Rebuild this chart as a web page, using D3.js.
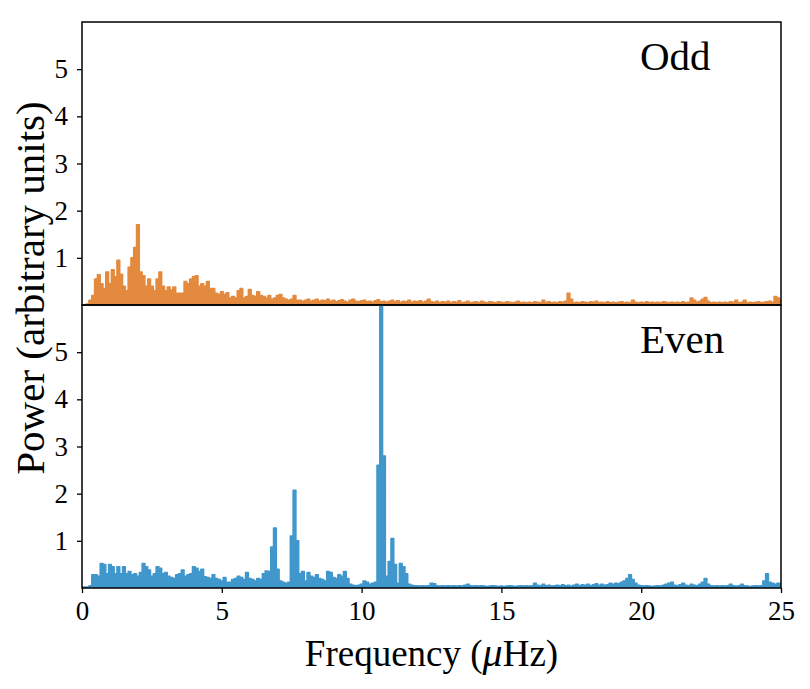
<!DOCTYPE html>
<html>
<head>
<meta charset="utf-8">
<script src="https://cdn.jsdelivr.net/npm/d3@7"></script>
<style>
  body { margin: 0; background: #fff; }
  svg { display: block; font-family: "Liberation Serif", "Times New Roman", serif; }
</style>
</head>
<body>
<svg id="chart" width="810" height="689"></svg>
<script>
// frequency grid (µHz), 0.1 step from 0 to 25
const freqStep = 0.1;

// odd-degree power spectrum
const oddPower = [
  0, 0, 0.02, 0.1, 0.2, 0.55, 0.64, 0.45, 0.35, 0.7,
  0.45, 0.75, 0.6, 0.95, 0.65, 0.4, 0.3, 0.8, 1.0, 1.22,
  1.7, 0.7, 0.62, 0.4, 0.55, 0.4, 0.3, 0.55, 0.7, 0.4,
  0.3, 0.38, 0.32, 0.38, 0.25, 0.25, 0.25, 0.5, 0.45, 0.55,
  0.6, 0.62, 0.4, 0.45, 0.4, 0.5, 0.35, 0.35, 0.25, 0.22,
  0.28, 0.22, 0.26, 0.15, 0.18, 0.15, 0.3, 0.35, 0.15, 0.18,
  0.33, 0.2, 0.18, 0.28, 0.2, 0.18, 0.15, 0.2, 0.12, 0.15,
  0.2, 0.22, 0.15, 0.12, 0.1, 0.12, 0.2, 0.1, 0.1, 0.08,
  0.1, 0.12, 0.08, 0.1, 0.12, 0.08, 0.1, 0.09, 0.12, 0.08,
  0.1, 0.07, 0.09, 0.11, 0.08, 0.06, 0.1, 0.12, 0.08, 0.07,
  0.09, 0.1, 0.07, 0.08, 0.06, 0.09, 0.11, 0.07, 0.08, 0.06,
  0.08, 0.1, 0.07, 0.09, 0.06, 0.08, 0.07, 0.1, 0.06, 0.08,
  0.07, 0.09, 0.06, 0.08, 0.12, 0.07, 0.06, 0.08, 0.05, 0.07,
  0.06, 0.08, 0.05, 0.07, 0.06, 0.09, 0.05, 0.06, 0.08, 0.05,
  0.06, 0.07, 0.05, 0.08, 0.06, 0.05, 0.07, 0.06, 0.05, 0.07,
  0.06, 0.05, 0.07, 0.06, 0.05, 0.06, 0.08, 0.05, 0.06, 0.05,
  0.06, 0.05, 0.07, 0.06, 0.05, 0.1, 0.06, 0.07, 0.05, 0.06,
  0.05, 0.07, 0.06, 0.08, 0.25, 0.12, 0.05, 0.06, 0.05, 0.07,
  0.06, 0.05, 0.07, 0.06, 0.08, 0.05, 0.06, 0.05, 0.07, 0.05,
  0.06, 0.05, 0.06, 0.07, 0.05, 0.06, 0.05, 0.1, 0.06, 0.05,
  0.06, 0.05, 0.07, 0.05, 0.06, 0.05, 0.06, 0.05, 0.07, 0.06,
  0.05, 0.06, 0.05, 0.06, 0.05, 0.07, 0.05, 0.06, 0.15, 0.1,
  0.06, 0.08, 0.12, 0.16, 0.08, 0.05, 0.06, 0.05, 0.06, 0.05,
  0.06, 0.05, 0.07, 0.06, 0.1, 0.05, 0.06, 0.1, 0.05, 0.06,
  0.05, 0.06, 0.07, 0.05, 0.06, 0.07, 0.08, 0.06, 0.18, 0.15,
  0.1
];

// even-degree power spectrum
const evenPower = [
  0.02, 0.02, 0.02, 0.05, 0.28, 0.28, 0.25, 0.52, 0.5, 0.3,
  0.5, 0.45, 0.3, 0.45, 0.3, 0.45, 0.3, 0.35, 0.28, 0.3,
  0.25, 0.33, 0.52, 0.45, 0.38, 0.25, 0.3, 0.45, 0.42, 0.3,
  0.33, 0.25, 0.22, 0.2, 0.28, 0.3, 0.38, 0.25, 0.28, 0.3,
  0.45, 0.42, 0.35, 0.4, 0.24, 0.22, 0.2, 0.28, 0.2, 0.18,
  0.15, 0.22, 0.12, 0.12, 0.18, 0.2, 0.25, 0.22, 0.18, 0.33,
  0.2, 0.18, 0.15, 0.2, 0.18, 0.3, 0.36, 0.35, 0.87, 1.27,
  0.4, 0.15, 0.12, 0.1, 0.12, 1.1, 2.07, 1.0, 0.3, 0.35,
  0.15, 0.33, 0.25, 0.22, 0.28, 0.2, 0.18, 0.15, 0.35, 0.33,
  0.22, 0.2, 0.28, 0.25, 0.35, 0.2, 0.08, 0.06, 0.05, 0.06,
  0.08, 0.15, 0.12, 0.08, 0.1, 0.12, 2.6, 6.3, 2.8, 0.25,
  0.56, 1.05, 0.5, 0.1, 0.52, 0.45, 0.3, 0.08, 0.06, 0.05,
  0.05, 0.04, 0.05, 0.04, 0.05, 0.1, 0.09, 0.05, 0.04, 0.05,
  0.04, 0.05, 0.04, 0.05, 0.04, 0.05, 0.04, 0.06, 0.08, 0.05,
  0.04, 0.05, 0.04, 0.05, 0.04, 0.03, 0.04, 0.05, 0.04, 0.03,
  0.04, 0.03, 0.04, 0.05, 0.04, 0.03, 0.04, 0.05, 0.04, 0.05,
  0.04, 0.05, 0.1, 0.06, 0.05, 0.08, 0.05, 0.06, 0.04, 0.05,
  0.06, 0.05, 0.07, 0.05, 0.06, 0.04, 0.06, 0.08, 0.05, 0.07,
  0.06, 0.08, 0.05, 0.07, 0.09, 0.06, 0.08, 0.06, 0.07, 0.1,
  0.08, 0.1, 0.09, 0.12, 0.15, 0.2, 0.28, 0.18, 0.1, 0.06,
  0.05, 0.04, 0.05, 0.04, 0.03, 0.04, 0.05, 0.04, 0.06, 0.08,
  0.1, 0.12, 0.06, 0.05, 0.07, 0.1, 0.06, 0.05, 0.08, 0.06,
  0.05, 0.08, 0.12, 0.2, 0.08, 0.05, 0.04, 0.05, 0.04, 0.05,
  0.04, 0.05, 0.08, 0.05, 0.04, 0.05, 0.08, 0.05, 0.04, 0.03,
  0.04, 0.05, 0.04, 0.05, 0.15, 0.3, 0.12, 0.1, 0.08, 0.1,
  0.1
];

const xTicks = [0, 5, 10, 15, 20, 25];
const yTicks = [1, 2, 3, 4, 5];

const panels = [
  { name: "Odd", values: oddPower, color: "#e38a3f" },
  { name: "Even", values: evenPower, color: "#4097cc" }
];

const svg = d3.select("#chart");
const margin_left = 82, margin_top = 22, plot_w = 699, panel_h = 283;
const fontFam = "Liberation Serif, Times New Roman, serif";

const x = d3.scaleLinear().domain([0, 25]).range([margin_left, margin_left + plot_w]);

panels.forEach((p, i) => {
  const top = margin_top + i * panel_h;
  const y = d3.scaleLinear().domain([0, 6]).range([top + panel_h, top]);
  const data = p.values.map((v, k) => ({ f: k * freqStep, v: v }));

  const clipId = "clip" + i;
  svg.append("clipPath").attr("id", clipId)
    .append("rect")
    .attr("x", margin_left).attr("y", top)
    .attr("width", plot_w).attr("height", panel_h);

  const g = svg.append("g").attr("clip-path", `url(#${clipId})`);

  const area = d3.area()
    .curve(d3.curveStep)
    .x((d) => x(d.f))
    .y0(y(0))
    .y1((d) => y(d.v));

  const line = d3.line()
    .curve(d3.curveStep)
    .x((d) => x(d.f))
    .y((d) => y(d.v));

  g.append("path").datum(data)
    .attr("fill", p.color)
    .attr("d", area);

  g.append("path").datum(data)
    .attr("fill", "none")
    .attr("stroke", p.color)
    .attr("stroke-width", 1.5)
    .attr("stroke-linejoin", "round")
    .attr("d", line);

  // y axis
  const ya = svg.append("g")
    .attr("transform", `translate(${margin_left},0)`)
    .call(d3.axisLeft(y).tickValues(yTicks).tickSize(5).tickPadding(9).tickFormat(d3.format("d")))
    .attr("font-family", fontFam)
    .attr("font-size", 27);
  ya.select(".domain").remove();
  ya.selectAll("line").attr("stroke", "#000").attr("stroke-width", 1.3);
  ya.selectAll("text").attr("fill", "#000");

  // frame
  svg.append("rect")
    .attr("x", margin_left).attr("y", top)
    .attr("width", plot_w).attr("height", panel_h)
    .attr("fill", "none").attr("stroke", "#000").attr("stroke-width", 1.5);

  svg.append("text")
    .attr("x", 640).attr("y", top + 48)
    .attr("font-size", "41px")
    .attr("fill", "#000")
    .text(p.name);
});

// x axis on bottom panel
const xa = svg.append("g")
  .attr("transform", `translate(0,${margin_top + 2 * panel_h})`)
  .call(d3.axisBottom(x).tickValues(xTicks).tickSize(5).tickPadding(8).tickFormat(d3.format("d")))
  .attr("font-family", fontFam)
  .attr("font-size", 27);
xa.select(".domain").remove();
xa.selectAll("line").attr("stroke", "#000").attr("stroke-width", 1.3);
xa.selectAll("text").attr("fill", "#000");

// axis labels
const xl = svg.append("text")
  .attr("x", margin_left + plot_w / 2).attr("y", 666)
  .attr("text-anchor", "middle")
  .attr("font-size", "37px")
  .attr("fill", "#000");
xl.append("tspan").text("Frequency (");
xl.append("tspan").attr("font-style", "italic").attr("font-size", "40px").text("μ");
xl.append("tspan").text("Hz)");

svg.append("text")
  .attr("transform", `translate(44,288) rotate(-90)`)
  .attr("text-anchor", "middle")
  .attr("font-size", "41px")
  .attr("fill", "#000")
  .text("Power (arbitrary units)");
</script>
</body>
</html>
